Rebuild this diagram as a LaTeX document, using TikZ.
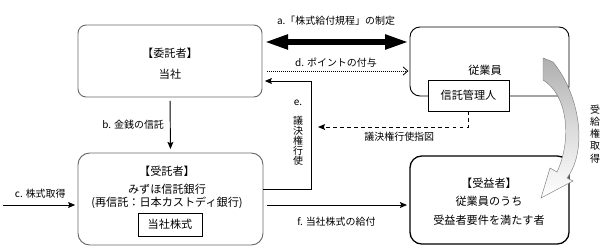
\documentclass[tikz,border=0pt]{standalone}
\usepackage{fontspec}
\setmainfont{Noto Sans CJK JP}
\usepackage{tikz}
\usetikzlibrary{arrows.meta,positioning,calc}
\definecolor{frameGray}{RGB}{105,105,105}
\definecolor{bandGray}{RGB}{175,175,175}

\begin{document}
\begin{tikzpicture}[x=0.03cm,y=-0.03cm,
  party/.style={rectangle,draw=black,rounded corners=7pt,line width=0.8pt},
  inbox/.style={rectangle,draw=black,fill=white,line width=0.6pt,inner sep=0pt,
                font=\fontsize{9.5}{11}\selectfont},
  txt/.style={align=center,inner sep=0pt,font=\fontsize{9.5}{11}\selectfont},
  lbl/.style={inner sep=1pt,font=\fontsize{8.5}{10}\selectfont},
  vlbl/.style={align=center,inner sep=0pt,font=\fontsize{8.5}{8.6}\selectfont},
  arr/.style={-{Stealth[length=6pt,width=5pt,inset=1pt]},line width=0.8pt},
  fat/.style={{Triangle[length=7mm,width=4.2mm]}-{Triangle[length=7mm,width=4.2mm]},line width=4.5pt}
]
  \useasboundingbox (0,0) rectangle (611,247);

  % boxes
  \node[party,draw=frameGray,minimum width=5.52cm,minimum height=2.16cm](itaku) at (170,61) {};
  \node[party,rounded corners=8.5pt,minimum width=4.77cm,minimum height=2.07cm](jugyo) at (489.5,61.5) {};
  \node[inbox,minimum width=2.43cm,minimum height=0.93cm](kanri) at (468.5,95.5) {信託管理人};
  \node[party,draw=frameGray,rounded corners=10pt,minimum width=5.55cm,minimum height=2.76cm](jutaku) at (170.5,199) {};
  \node[inbox,minimum width=1.92cm,minimum height=0.69cm](kabu) at (170,224.5) {当社株式};
  \node[party,rounded corners=10pt,line width=1.1pt,minimum width=4.77cm,minimum height=2.64cm](jueki) at (489.5,200) {};

  % box texts
  \node[txt](itakuT)  at (170,64)    {【委託者】\\[7pt]当社};
  \node[txt](jugyoT)  at (485,70)    {従業員};
  \node[txt](jutakuT) at (167,187.5) {【受託者】\\[4.4pt]みずほ信託銀行\\(再信託：日本カストディ銀行)};
  \node[txt](juekiT)  at (489,201.5) {【受益者】\\[4.8pt]従業員のうち\\[4.8pt]受益者要件を満たす者};

  % connectors
  \draw[fat,shorten <=2pt,shorten >=1pt]([yshift=0.57cm]itaku.east)--([yshift=0.57cm]itaku.east -| jugyo.west)
        node[lbl,midway,above=11pt]{a.「株式給付規程」の制定};
  \draw[densely dotted,line width=0.7pt,-{Straight Barb[length=4pt,width=7pt]},shorten <=4pt,shorten >=1pt]
        ([yshift=-0.3cm]itaku.east)--([yshift=-0.3cm]itaku.east -| jugyo.west)
        node[lbl,midway,above=2pt]{d. ポイントの付与};
  \draw[arr]([yshift=0.3cm]jutaku.east)--++(48,0)|-([xshift=2pt,yshift=-0.6cm]itaku.east);
  \node[vlbl](eLbl) at (298,133) {e.\\[7.5pt]議\\決\\権\\行\\使};
  \coordinate (shiji) at (318,127);
  \draw[arr,dashed](kanri.south)|-(shiji) node[lbl,pos=0.73,below=3pt]{議決権行使指図};
  \draw[arr,shorten <=3pt,shorten >=3pt](itaku.south)--(jutaku.north)
        node[lbl,midway,left=4pt]{b. 金銭の信託};
  \coordinate (cStart) at (3,205);
  \draw[arr,shorten >=2pt](cStart)--(cStart -| jutaku.west)
        node[lbl,midway,above=4pt]{c. 株式取得};
  \draw[arr,shorten <=3pt,shorten >=2pt]([yshift=-0.18cm]jutaku.east)--([yshift=-0.18cm]jutaku.east -| jueki.west)
        node[lbl,midway,below=9pt]{f. 当社株式の給付};

  % curved block arrow
  \draw[draw=gray,line width=0.4pt,top color=bandGray,bottom color=white,middle color=bandGray!45]
    (543,58)--(553,62) .. controls (580,95) and (588,150) .. (567,178)
    --(573,181)--(541,198)--(550,168)--(557,172) .. controls (572,140) and (568,95) .. (543,80)--cycle;
  \node[vlbl,font=\fontsize{8.5}{10.4}\selectfont](kyufu) at (595,134) {受\\給\\権\\取\\得};
\end{tikzpicture}
\end{document}
